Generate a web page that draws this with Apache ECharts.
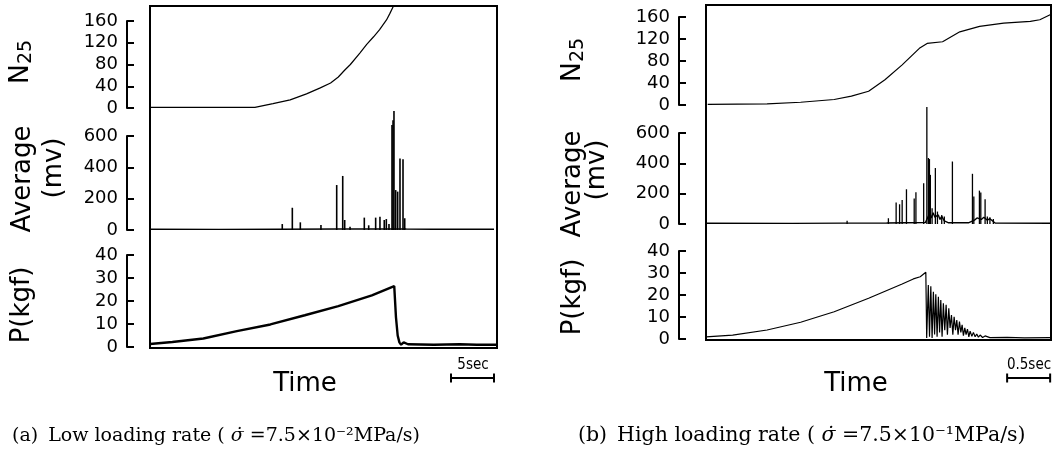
<!DOCTYPE html>
<html><head><meta charset="utf-8">
<script src="https://cdn.jsdelivr.net/npm/echarts@6/dist/echarts.min.js"></script>
<style>html,body{margin:0;padding:0;background:#fff}#c{width:1059px;height:452px}</style>
</head><body><div id="c"></div>
<script>
// ---------- DATA (time in seconds) ----------
// Panel (a): low loading rate
const n25Left = [[0,1],[12.2,1],[12.4,4],[14.3,8],[16.3,15],[18.2,26],[19.8,37],[21.0,46],[21.9,57],[22.6,69],[23.3,80],[24.4,101],[25.2,117],[26.0,131],[26.7,144],[27.5,162],[27.9,174],[28.3,187]];
const avgLeftBase = [[0,5],[8,4],[15,5],[22,6],[28,7],[29.8,6],[33,5],[40.0,5]];
const avgLeftSpikes = [[15.38,38],[16.55,142],[17.48,49],[19.88,32],[21.71,287],[22.41,345],[22.64,64],[23.26,20],[24.92,79],[25.43,30],[26.24,79],[26.74,85],[27.24,64],[27.48,70],[27.79,38],[28.14,670],[28.26,700],[28.37,760],[28.57,255],[28.80,245],[29.07,457],[29.42,451],[29.62,75]];
const pLeft = [[0,1.3],[2.6,2.2],[6.2,3.7],[10.1,6.9],[14.0,9.8],[18.0,13.8],[21.9,17.8],[25.8,22.4],[28.4,26.5],[28.6,13],[28.8,5],[29.0,2],[29.2,1],[29.5,2],[30,1.2],[33,1],[36,1.2],[38,1],[40.3,1]];
// Panel (b): high loading rate
const n25Right = [[0.02,1],[0.71,2],[1.10,5],[1.49,10],[1.69,16],[1.89,25],[2.08,46],[2.28,73],[2.48,103],[2.57,112],[2.75,115],[2.95,133],[3.18,143],[3.46,149],[3.77,152],[3.88,155],[4.0,164]];
const avgRightBase = [[0,5],[1.0,4],[1.6,6],[2.1,7],[2.55,10],[2.6,70],[2.62,40],[2.64,75],[2.66,45],[2.7,60],[2.72,30],[2.74,50],[2.77,20],[2.82,8],[3.05,8],[3.12,25],[3.15,40],[3.2,30],[3.23,45],[3.27,25],[3.3,35],[3.36,6],[4.0,5]];
const avgRightSpikes = [[1.64,22],[2.12,38],[2.21,141],[2.25,130],[2.28,159],[2.33,229],[2.42,168],[2.44,210],[2.53,269],[2.567,772],[2.585,435],[2.597,428],[2.608,324],[2.628,104],[2.666,369],[2.69,82],[2.74,60],[2.77,49],[2.864,412],[3.097,331],[3.113,181],[3.178,220],[3.194,207],[3.244,163],[3.27,49],[3.30,44],[3.34,33]];
const pRight = [[0.0,1.0],[0.31,1.8],[0.71,4.1],[1.10,7.6],[1.49,12.4],[1.89,18.5],[2.28,25.0],[2.41,27.3],[2.49,28.3],[2.555,30.3],
 [2.565,0.5],[2.584,24.5],[2.598,1],[2.613,24],[2.628,0.5],[2.643,21.5],[2.657,2],[2.671,20.3],[2.686,1],[2.701,19.2],[2.715,3],[2.729,17.7],[2.744,1],[2.759,16.2],[2.775,4],[2.791,15.5],[2.806,2],[2.822,14],[2.837,5],[2.853,10.9],[2.869,2],[2.884,10.1],[2.9,4],[2.915,8.6],[2.93,2],[2.946,7.9],[2.962,3],[2.977,6.4],[2.992,1.5],[3.008,5.1],[3.023,2],[3.039,4.5],[3.055,1],[3.07,3.6],[3.09,1.2],[3.108,3.0],[3.128,1],[3.147,2.3],[3.166,0.8],[3.186,1.8],[3.215,0.7],[3.244,1.4],[3.3,0.6],[3.5,0.7],[3.7,0.5],[4.0,0.6]];
// axes
const n25Axis = {min:0, max:160, interval:40};
const avgAxis = {min:0, max:600, interval:200};
const pAxis = {min:0, max:40, interval:10};
const scaleLeft = [[35,0],[40,0]];    // 5 sec
const scaleRight = [[3.5,0],[4.0,0]]; // 0.5 sec
const scaleLabels = ['5sec','0.5sec'];
const titles = ['N','Average','(mv)','P(kgf)','Time'];
const captions = [
  ['(a)','Low loading rate ( ','σ̇',' =7.5×10','⁻²','MPa/s)'],
  ['(b)','High loading rate ( ','σ̇',' =7.5×10','⁻¹','MPa/s)']
];

// ---------- LAYOUT ----------
const P = [
  {left:150, width:347, xmax:40.35, frameTop:6, frameH:342, n25:[21,87], avg:[136,94], p:[255,92], off:23,
   tx:[21,23,54,22], ty:[62,179,168,305], timeX:305, scaleX:473, capX:12, capSize:19},
  {left:706, width:345, xmax:4.01, frameTop:5, frameH:335, n25:[17,88], avg:[133,91], p:[251,88], off:27,
   tx:[573,573,597,573], ty:[60,184,170,297], timeX:856, scaleX:1029, capX:578, capSize:20.5}
];
const grids=[], xAxes=[], yAxes=[], series=[], graphics=[];
const labelFont = {color:'#000', fontFamily:'DejaVu Sans', fontSize:18, margin:9};
function addGrid(g, xmax, yopt){
  const gi = grids.length;
  grids.push(Object.assign({containLabel:false}, g));
  xAxes.push({type:'value', gridIndex:gi, min:0, max:xmax, show:false});
  if (yopt) {
    yAxes.push(Object.assign({type:'value', gridIndex:gi, position:'left', offset:yopt.off,
      axisLine:{show:true, onZero:false, lineStyle:{color:'#000', width:2}},
      axisTick:{show:true, inside:true, length:7, lineStyle:{color:'#000', width:2}},
      axisLabel:labelFont, splitLine:{show:false}}, yopt.ax));
  } else {
    yAxes.push({type:'value', gridIndex:gi, min:-1, max:1, show:false});
  }
  return gi;
}
const panelData = [
  {n25:n25Left, base:avgLeftBase, spikes:avgLeftSpikes, p:pLeft, scale:scaleLeft, pw:2.4, bw:1.6},
  {n25:n25Right, base:avgRightBase, spikes:avgRightSpikes, p:pRight, scale:scaleRight, pw:1.2, bw:1.3}
];
const serif = 'DejaVu Serif';
P.forEach((L, k) => {
  const D = panelData[k];
  addGrid({left:L.left, width:L.width, top:L.frameTop, height:L.frameH, show:true, borderColor:'#000', borderWidth:2, backgroundColor:'transparent'}, L.xmax, null);
  const g1 = addGrid({left:L.left, width:L.width, top:L.n25[0], height:L.n25[1]}, L.xmax, {off:L.off, ax:n25Axis});
  series.push({type:'line', xAxisIndex:g1, yAxisIndex:g1, data:D.n25, showSymbol:false, clip:false, lineStyle:{color:'#000', width:1.2}});
  const g2 = addGrid({left:L.left, width:L.width, top:L.avg[0], height:L.avg[1]}, L.xmax, {off:L.off, ax:avgAxis});
  series.push({type:'bar', xAxisIndex:g2, yAxisIndex:g2, data:D.spikes, barWidth:D.bw, clip:false, itemStyle:{color:'#000'}});
  series.push({type:'line', xAxisIndex:g2, yAxisIndex:g2, data:D.base, showSymbol:false, lineStyle:{color:'#000', width:1.4}});
  const g3 = addGrid({left:L.left, width:L.width, top:L.p[0], height:L.p[1]}, L.xmax, {off:L.off, ax:pAxis});
  series.push({type:'line', xAxisIndex:g3, yAxisIndex:g3, data:D.p, showSymbol:false, clip:false, lineStyle:{color:'#000', width:D.pw}});
  const g4 = addGrid({left:L.left, width:L.width, top:370, height:16}, L.xmax, null);
  series.push({type:'line', xAxisIndex:g4, yAxisIndex:g4, data:D.scale, symbol:'rect', symbolSize:[2,9], clip:false,
    itemStyle:{color:'#000'}, lineStyle:{color:'#000', width:2}});
  // titles (rotated)
  graphics.push({type:'text', x:L.tx[0], y:L.ty[0], rotation:Math.PI/2,
    style:{text:'{a|N}{b|25}', fill:'#000', align:'center', verticalAlign:'middle',
      rich:{a:{fontFamily:'DejaVu Sans', fontSize:27, fill:'#000'},
            b:{fontFamily:'DejaVu Sans', fontSize:19, fill:'#000', padding:[10,0,0,0]}}}});
  for (let i=1;i<4;i++){
    graphics.push({type:'text', x:L.tx[i], y:L.ty[i], rotation:Math.PI/2,
      style:{text:titles[i], fontFamily:'DejaVu Sans', fontSize:26, fill:'#000', align:'center', verticalAlign:'middle'}});
  }
  graphics.push({type:'text', x:L.timeX, y:384, style:{text:titles[4], fontFamily:'DejaVu Sans', fontSize:26, fill:'#000', align:'center', verticalAlign:'middle'}});
  graphics.push({type:'text', x:L.scaleX, y:365, style:{text:scaleLabels[k], fontFamily:'DejaVu Sans Condensed, DejaVu Sans', fontSize:15, fill:'#000', align:'center', verticalAlign:'middle'}});
  // caption
  const c = captions[k];
  graphics.push({type:'text', x:L.capX, y:436, style:{
    text:'{n|'+c[0]+'}   {n|'+c[1]+'}{i|'+c[2]+'}{n|'+c[3]+c[4]+c[5]+'}',
    verticalAlign:'middle', align:'left', fill:'#000',
    rich:{
      n:{fontFamily:serif, fontSize:L.capSize, fill:'#000'},
      i:{fontFamily:serif, fontSize:L.capSize, fontStyle:'italic', fill:'#000'}
    }}});
});

const chart = echarts.init(document.getElementById('c'), null, {renderer:'canvas'});
chart.setOption({animation:false, backgroundColor:'#fff', grid:grids, xAxis:xAxes, yAxis:yAxes, series:series, graphic:graphics});
</script></body></html>
